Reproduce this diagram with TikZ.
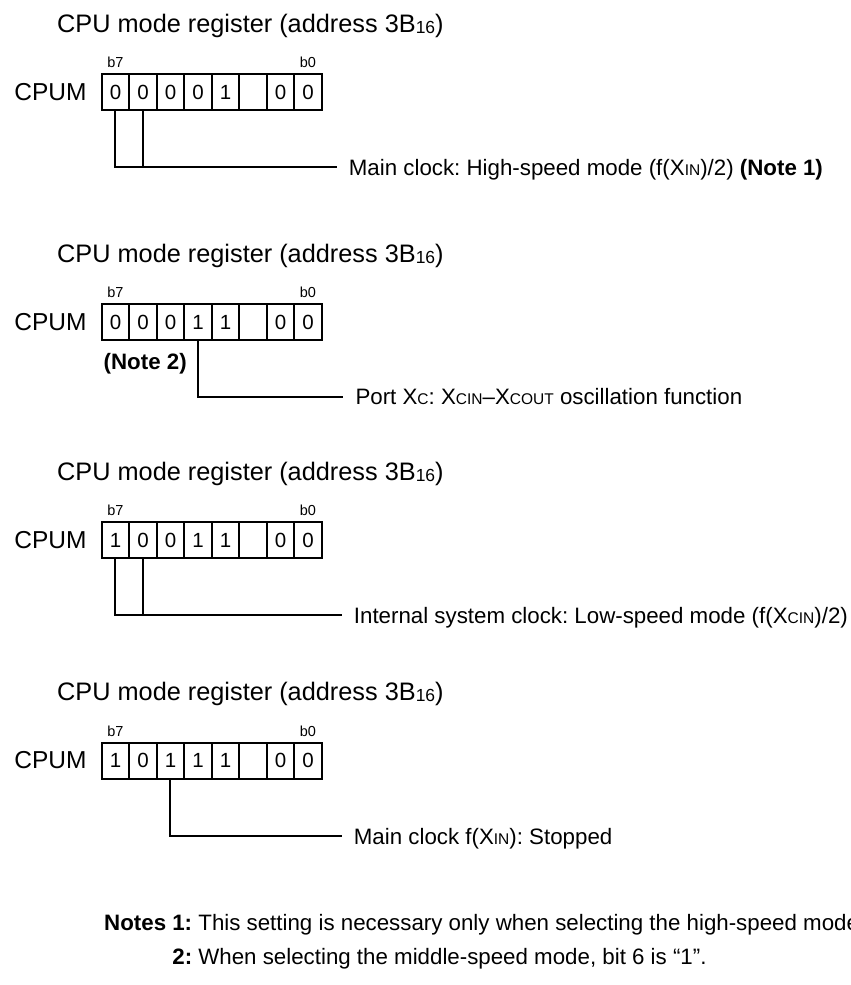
\documentclass[tikz,border=0pt]{standalone}
\usepackage{fontspec}
\setmainfont{Liberation Sans}
\usetikzlibrary{positioning}
\frenchspacing
\newcommand\lowcap[1]{{\fontsize{15.5}{16}\selectfont #1}}
\newcommand\hexsub[1]{\raisebox{-1pt}{\fontsize{17.5}{18}\selectfont #1}}

\begin{document}
\begin{tikzpicture}[x=1pt,y=-1pt,
  title/.style={anchor=base west,inner sep=0pt,font=\fontsize{25.3}{30}\selectfont},
  regname/.style={inner sep=0pt,font=\fontsize{24.5}{28}\selectfont},
  cell/.style={draw,line width=2pt,minimum width=27.5pt,minimum height=36pt,inner sep=0pt,outer sep=0pt,font=\fontsize{20.5}{24}\selectfont},
  bitno/.style={inner sep=0pt,font=\fontsize{14.5}{16}\selectfont},
  desc/.style={anchor=west,inner xsep=12pt,inner ysep=0pt,text height=16pt,text depth=0pt,font=\fontsize{22.3}{26}\selectfont},
  wire/.style={line width=2pt}]
\useasboundingbox (0,0) rectangle (851,985);
% register 1
\node[title] (ta) at (57,32) {CPU mode register (address 3B\hexsub{16})};
\foreach \v [count=\i] in {0,0,0,0,1,{},0,0}
  \node[cell] (ra\i) at (87.95+27.5*\i,92) {\v};
\node[regname,left=15pt of ra1] (na) {CPUM};
\node[bitno,above=6pt of ra1] (ba7) {b7};
\node[bitno,above=6pt of ra8] (ba0) {b0};
\node[desc] (da) at (336.7,167) {Main clock: High-speed mode (f(X\lowcap{IN})/2) \textbf{(Note 1)}};
\draw[wire] (ra1.south) |- (da.west);
\draw[wire] (ra2.south) -- (ra2.south |- da.west);
% register 2
\node[title] (tb) at (57,262.3) {CPU mode register (address 3B\hexsub{16})};
\foreach \v [count=\i] in {0,0,0,1,1,{},0,0}
  \node[cell] (rb\i) at (87.95+27.5*\i,322.3) {\v};
\node[regname,left=15pt of rb1] (nb) {CPUM};
\node[bitno,above=6pt of rb1] (bb7) {b7};
\node[bitno,above=6pt of rb8] (bb0) {b0};
\node[desc,inner xsep=0pt,below right=13pt and 1.8pt of rb1.south west] (nt2) {\textbf{(Note 2)}};
\node[desc] (db) at (343.3,396.7) {Port X\lowcap{C}: X\lowcap{CIN}--X\lowcap{COUT} oscillation function};
\draw[wire] (rb4.south) |- (db.west);
% register 3
\node[title] (tc) at (57,480) {CPU mode register (address 3B\hexsub{16})};
\foreach \v [count=\i] in {1,0,0,1,1,{},0,0}
  \node[cell] (rc\i) at (87.95+27.5*\i,540) {\v};
\node[regname,left=15pt of rc1] (nc) {CPUM};
\node[bitno,above=6pt of rc1] (bc7) {b7};
\node[bitno,above=6pt of rc8] (bc0) {b0};
\node[desc] (dc) at (341.7,615) {Internal system clock: Low-speed mode (f(X\lowcap{CIN})/2)};
\draw[wire] (rc1.south) |- (dc.west);
\draw[wire] (rc2.south) -- (rc2.south |- dc.west);
% register 4
\node[title] (td) at (57,700.5) {CPU mode register (address 3B\hexsub{16})};
\foreach \v [count=\i] in {1,0,1,1,1,{},0,0}
  \node[cell] (rd\i) at (87.95+27.5*\i,760.5) {\v};
\node[regname,left=15pt of rd1] (nd) {CPUM};
\node[bitno,above=6pt of rd1] (bd7) {b7};
\node[bitno,above=6pt of rd8] (bd0) {b0};
\node[desc] (dd) at (341.7,836) {Main clock f(X\lowcap{IN}): Stopped};
\draw[wire] (rd3.south) |- (dd.west);
% notes
\node[anchor=base west,inner sep=0pt,font=\fontsize{22.3}{34.3}\selectfont] (notes) at (104,945.7)
  {\begin{tabular}{@{}r@{ }l@{}}
   \textbf{Notes 1:} & This setting is necessary only when selecting the high-speed mode.\\
   \textbf{2:} & When selecting the middle-speed mode, bit 6 is “1”.
   \end{tabular}};
\end{tikzpicture}
\end{document}
